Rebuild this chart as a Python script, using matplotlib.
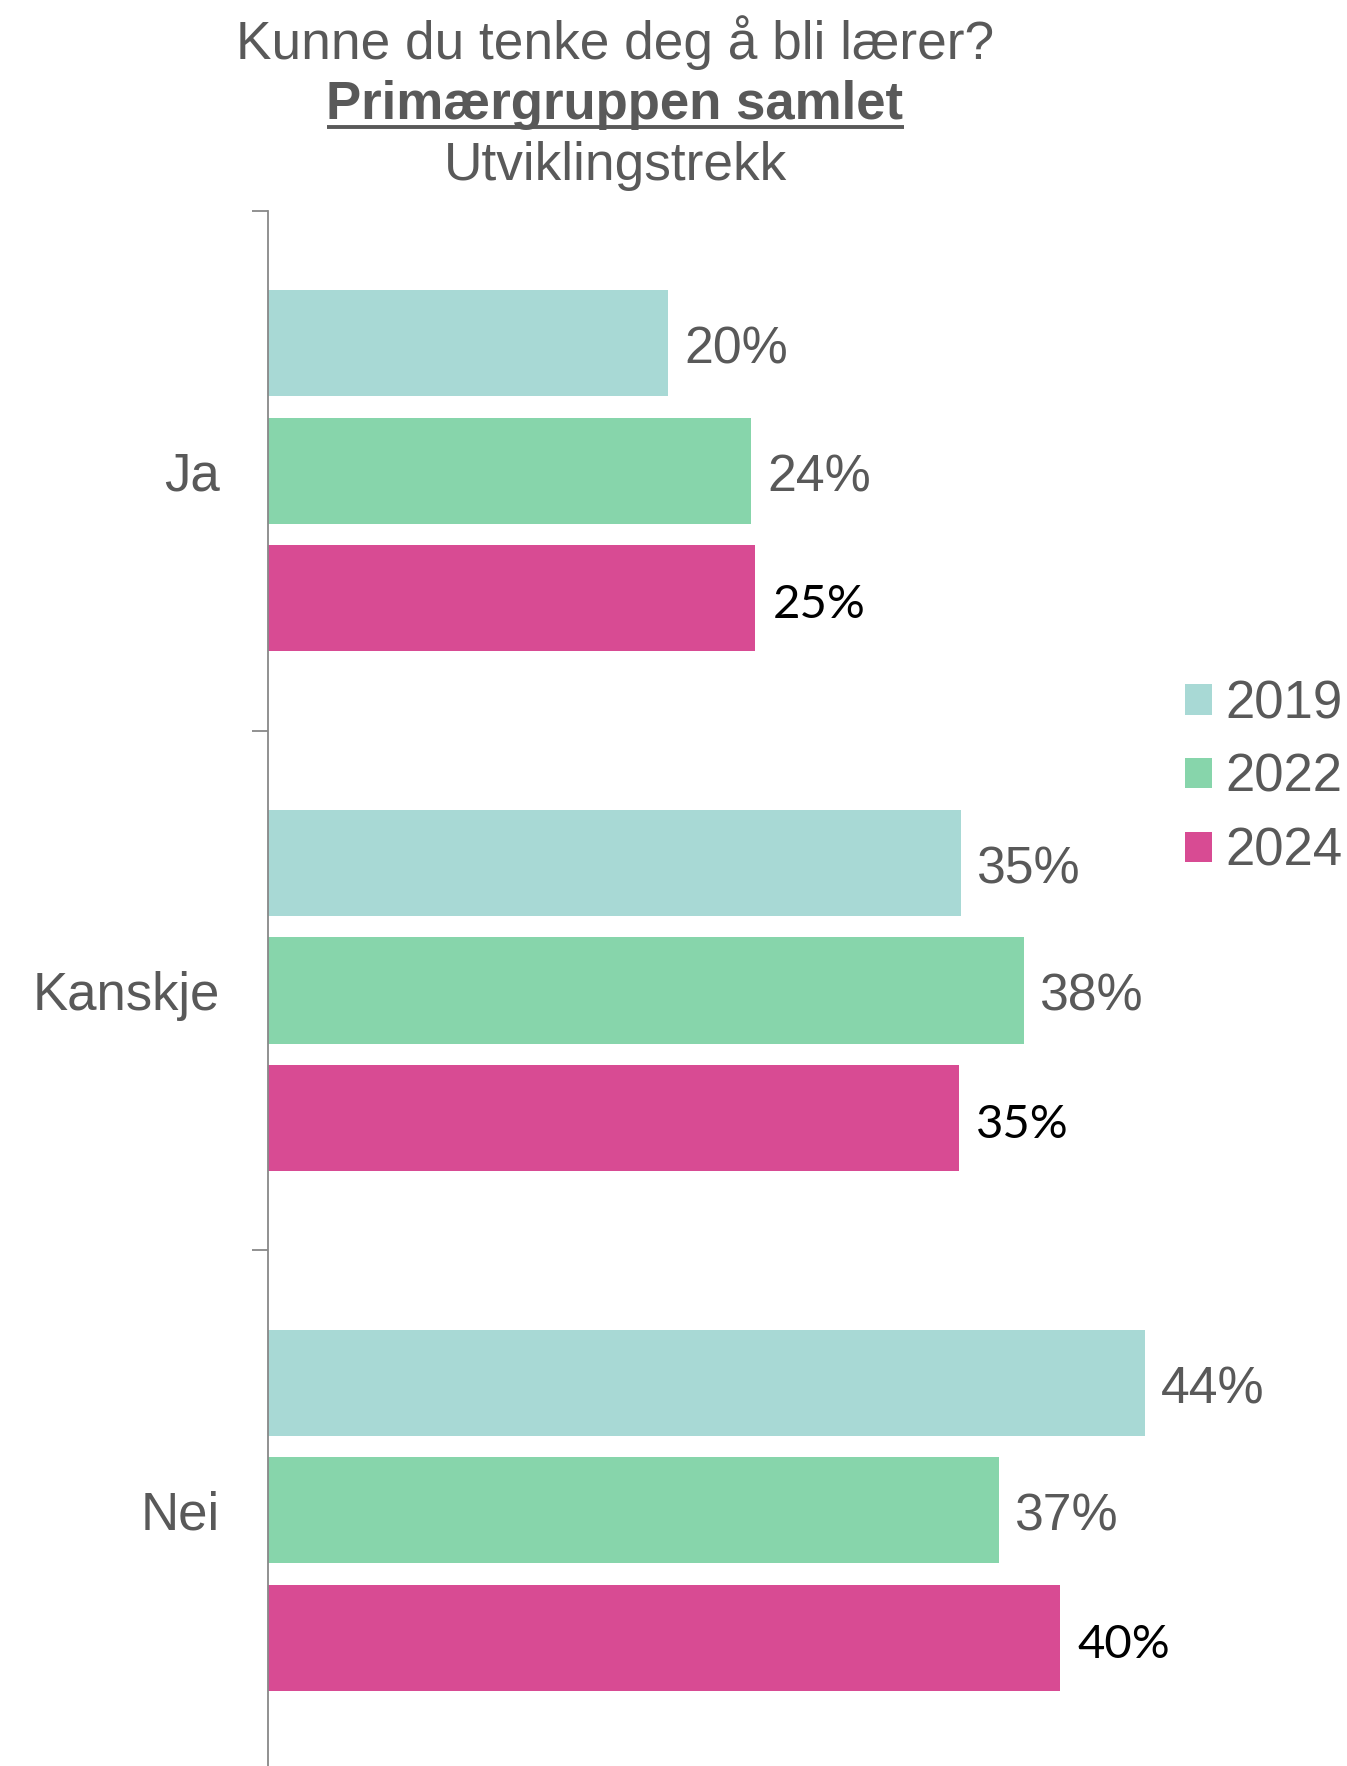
import matplotlib
matplotlib.use('Agg')
import matplotlib.pyplot as plt
from matplotlib.patches import Patch
from matplotlib.lines import Line2D
import numpy as np

# ---- data ----
categories = ['Ja', 'Kanskje', 'Nei']
years = ['2019', '2022', '2024']
values_2019 = [20.2, 35.0, 44.3]
values_2022 = [24.4, 38.2, 36.9]
values_2024 = [24.6, 34.9, 40.0]
series = [values_2019, values_2022, values_2024]

title_line1 = 'Kunne du tenke deg å bli lærer?'
title_line2 = 'Primærgruppen samlet'
title_line3 = 'Utviklingstrekk'

# ---- style ----
colors = ['#A8D9D5', '#87D5AB', '#D84B93']
label_colors = ['#595959', '#595959', '#000000']
label_fonts = ['Liberation Sans', 'Liberation Sans', 'Lato']
label_sizes = [37.3, 37.3, 34]
label_pads = [11.5, 11.5, 12.5]
gray = '#595959'
axis_gray = '#888888'

W, H = 1347, 1766
fig = plt.figure(figsize=(W / 100, H / 100), dpi=100)
plt.rcParams['font.family'] = ['Liberation Sans', 'DejaVu Sans']

ax = fig.add_axes([268 / W, 1 - 1770 / H, 990 / W, (1770 - 211) / H])

y_centers = np.arange(len(categories)) + 0.5
pitch = 0.2455
bar_h = 0.204
for i, (vals, c) in enumerate(zip(series, colors)):
    ys = y_centers + (i - 1) * pitch
    bars = ax.barh(ys, vals, height=bar_h, color=c, edgecolor='none')
    for rect, v in zip(bars, vals):
        ax.annotate(f'{round(v)}%',
                    xy=(rect.get_width(), rect.get_y() + rect.get_height() / 2),
                    xytext=(label_pads[i], -5), textcoords='offset points',
                    ha='left', va='center', color=label_colors[i],
                    fontsize=label_sizes[i], fontfamily=label_fonts[i])

ax.set_xlim(0, 50)
ax.set_ylim(3, 0)
for s in ['top', 'right', 'bottom']:
    ax.spines[s].set_visible(False)
ax.spines['left'].set_color(axis_gray)
ax.spines['left'].set_linewidth(1.3)
ax.set_xticks([])

ax.set_yticks([0, 1, 2, 3])
ax.set_yticklabels([])
ax.tick_params(axis='y', which='major', length=11.5, width=1.3, color=axis_gray, direction='out')
ax.set_yticks(y_centers, minor=True)
ax.set_yticklabels(categories, minor=True)
ax.tick_params(axis='y', which='minor', length=0, pad=34.5, labelsize=38, labelcolor=gray)

# ---- title ----
tx = 615 / W
fig.text(tx, 1 - 58.6 / H, title_line1, ha='center', va='baseline', fontsize=38.3, color=gray)
t2 = fig.text(tx, 1 - 119 / H, title_line2, ha='center', va='baseline', fontsize=38,
              color=gray, fontweight='bold')
fig.text(tx, 1 - 180 / H, title_line3, ha='center', va='baseline', fontsize=38.3, color=gray)

fig.canvas.draw()
bb = t2.get_window_extent()
uy = 1 - 127 / H
fig.add_artist(Line2D([bb.x0 / W, bb.x1 / W], [uy, uy], transform=fig.transFigure,
                      color=gray, linewidth=2.8, solid_capstyle='butt'))

# ---- legend ----
handles = [Patch(facecolor=c, edgecolor='none') for c in colors]
fig.legend(handles, years, loc='center left', bbox_to_anchor=(1185 / W, 1 - 778 / H),
           frameon=False, fontsize=38, handlelength=0.51, handleheight=0.51,
           handletextpad=0.25, labelspacing=0.45, borderpad=0, borderaxespad=0,
           labelcolor=gray)

fig.savefig('out.png', dpi=100)
